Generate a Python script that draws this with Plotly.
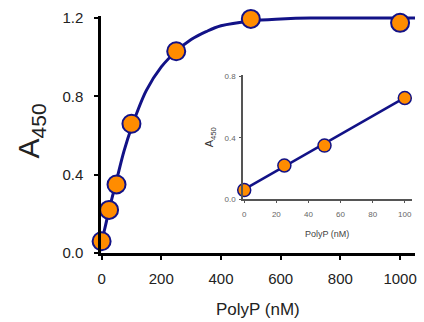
import plotly.graph_objects as go

# Main data
polyp = [0, 25, 50, 100, 250, 500, 1000]
a450 = [0.06, 0.22, 0.35, 0.66, 1.03, 1.195, 1.175]
# Fitted curve
fit_x = [0, 10, 25, 50, 75, 100, 150, 200, 250, 300, 350, 400, 500, 600, 700, 800, 900, 1000, 1050]
fit_y = [0.06, 0.12, 0.22, 0.37, 0.52, 0.64, 0.83, 0.95, 1.03, 1.09, 1.13, 1.16, 1.185, 1.195, 1.2, 1.2, 1.2, 1.2, 1.2]

# Inset data
inset_x = [0, 25, 50, 100]
inset_y = [0.06, 0.22, 0.35, 0.66]
inset_fit_x = [0, 103]
inset_fit_y = [0.065, 0.68]

main_yticks = [0.0, 0.4, 0.8, 1.2]
main_xticks = [0, 200, 400, 600, 800, 1000]
inset_yticks = [0.0, 0.4, 0.8]
inset_xticks = [0, 20, 40, 60, 80, 100]

NAVY = "rgb(18,18,135)"
ORANGE = "rgb(255,140,0)"

W, H = 424, 322
L, R, T, B = 101, 7, 16, 69
pw, ph = W - L - R, H - T - B

def px(x):
    return (x - L) / pw

def py(y):
    return (H - B - y) / ph

fig = go.Figure()
fig.add_trace(go.Scatter(x=fit_x, y=fit_y, mode="lines", line=dict(color=NAVY, width=3, shape="spline"),
                         hoverinfo="skip", cliponaxis=False))
fig.add_trace(go.Scatter(x=polyp, y=a450, mode="markers",
                         marker=dict(size=18, color=ORANGE, line=dict(color=NAVY, width=2)),
                         cliponaxis=False))
fig.add_trace(go.Scatter(x=inset_fit_x, y=inset_fit_y, mode="lines", line=dict(color=NAVY, width=2.5),
                         xaxis="x2", yaxis="y2", cliponaxis=False))
fig.add_trace(go.Scatter(x=inset_x, y=inset_y, mode="markers",
                         marker=dict(size=13, color=ORANGE, line=dict(color=NAVY, width=1.5)),
                         xaxis="x2", yaxis="y2", cliponaxis=False))

fig.update_layout(
    width=W, height=H,
    margin=dict(l=L, r=R, t=T, b=B, pad=0),
    paper_bgcolor="white", plot_bgcolor="white",
    showlegend=False,
    font=dict(family="Liberation Sans, Arial, sans-serif", color="#222"),
    xaxis=dict(range=[-2, 1050], tickvals=main_xticks, showgrid=False, zeroline=False,
               showline=True, linecolor="black", linewidth=2.5, ticks="outside", ticklen=4,
               tickwidth=1.5, tickcolor="black", tickfont=dict(size=15, color="#222"),
               ticklabelstandoff=6),
    yaxis=dict(range=[0, 1.21], tickvals=main_yticks, tickformat=".1f", showgrid=False, zeroline=False,
               showline=True, linecolor="black", linewidth=2.5, ticks="outside", ticklen=4,
               tickwidth=1.5, tickcolor="black", tickfont=dict(size=15, color="#222"),
               ticklabelstandoff=8),
    xaxis2=dict(domain=[px(244), px(414)], anchor="y2", range=[-0.7, 104.5], tickvals=inset_xticks,
                showgrid=False, zeroline=False, showline=True, linecolor="#555", linewidth=1.5,
                ticks="outside", ticklen=2, tickcolor="#555", tickfont=dict(size=8, color="#666"),
                ticklabelstandoff=4),
    yaxis2=dict(domain=[py(199.3), py(75)], anchor="x2", range=[0, 0.81], tickvals=inset_yticks,
                tickformat=".1f", showgrid=False, zeroline=False, showline=True, linecolor="#555",
                linewidth=1.5, ticks="outside", ticklen=2, tickcolor="#555",
                tickfont=dict(size=8, color="#666"), ticklabelstandoff=2),
    annotations=[
        dict(text="A<sub>450</sub>", x=px(30), y=py(131), xref="paper", yref="paper",
             textangle=-90, showarrow=False, font=dict(size=30, color="#222"),
             xanchor="center", yanchor="middle"),
        dict(text="PolyP (nM)", x=px(259), y=py(309), xref="paper", yref="paper",
             showarrow=False, font=dict(size=17, color="#222"), xanchor="center", yanchor="middle"),
        dict(text="A<sub>450</sub>", x=px(211), y=py(137), xref="paper", yref="paper",
             textangle=-90, showarrow=False, font=dict(size=11, color="#333"),
             xanchor="center", yanchor="middle"),
        dict(text="PolyP (nM)", x=px(328), y=py(234), xref="paper", yref="paper",
             showarrow=False, font=dict(size=9, color="#444"), xanchor="center", yanchor="middle"),
    ],
)

fig.write_html("out.html", config={"displayModeBar": False},
               post_script="document.body.style.margin='0';document.body.style.padding='0';")
